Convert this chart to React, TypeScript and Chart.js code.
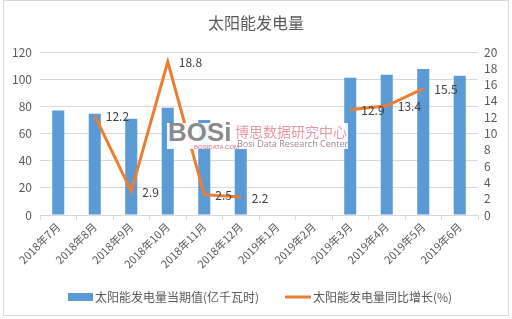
import React, { useEffect, useRef } from "react";
import { Chart, registerables } from "chart.js";

Chart.register(...registerables);

const categories = ["2018年7月", "2018年8月", "2018年9月", "2018年10月", "2018年11月", "2018年12月", "2019年1月", "2019年2月", "2019年3月", "2019年4月", "2019年5月", "2019年6月"];
const outputValues: (number | null)[] = [77, 74.5, 70.8, 79, 70, 48.6, null, null, 101, 103.3, 107.5, 102.6];
const growthValues: (number | null)[] = [null, 12.2, 2.9, 18.8, 2.5, 2.2, null, null, 12.9, 13.4, 15.5, null];
const leftTicks = [0, 20, 40, 60, 80, 100, 120];
const rightTicks = [0, 2, 4, 6, 8, 10, 12, 14, 16, 18, 20];
const titleText = "太阳能发电量";
const barLabel = "太阳能发电量当期值(亿千瓦时)";
const lineLabel = "太阳能发电量同比增长(%)";

const FONT = "'Microsoft YaHei', 'Noto Sans CJK SC', 'Noto Sans', sans-serif";
const BLUE = "#5B9BD5";
const ORANGE = "#ED7D31";
const TEXT = "#595959";

export default function App() {
  const ref = useRef<HTMLCanvasElement | null>(null);
  useEffect(() => {
    document.body.style.margin = "0";
    const canvas = ref.current!;
    const decor = {
      id: "decor",
      beforeDraw(chart: any) {
        const ctx = chart.ctx;
        ctx.save();
        ctx.fillStyle = "#fff";
        ctx.fillRect(0, 0, chart.width, chart.height);
        ctx.strokeStyle = "#D9D9D9";
        ctx.lineWidth = 1;
        ctx.strokeRect(3.5, 0.5, chart.width - 7, chart.height - 4);
        // title
        ctx.fillStyle = TEXT;
        ctx.font = `16px ${FONT}`;
        ctx.textAlign = "center";
        ctx.textBaseline = "middle";
        ctx.fillText(titleText, 256, 23);
        // legend
        ctx.font = `12px ${FONT}`;
        ctx.textAlign = "left";
        ctx.fillStyle = BLUE;
        ctx.fillRect(68, 293, 25, 8);
        ctx.fillStyle = TEXT;
        ctx.fillText(barLabel, 95, 297);
        ctx.strokeStyle = ORANGE;
        ctx.lineWidth = 3;
        ctx.beginPath();
        ctx.moveTo(285, 297);
        ctx.lineTo(311, 297);
        ctx.stroke();
        ctx.fillText(lineLabel, 313, 297);
        ctx.restore();
      },
      afterDatasetsDraw(chart: any) {
        const ctx = chart.ctx;
        ctx.save();
        // watermark
        ctx.fillStyle = "rgba(255,255,255,0.92)";
        ctx.fillRect(167, 123, 181, 26);
        ctx.fillStyle = "#8a8a8a";
        ctx.font = `bold 26px Arial, 'Liberation Sans', sans-serif`;
        ctx.textBaseline = "middle";
        ctx.textAlign = "left";
        ctx.fillText("BOSi", 168, 134);
        ctx.fillStyle = "#d07080";
        ctx.font = `6px Arial, sans-serif`;
        ctx.fillText("BOSIDATA.COM", 194, 147);
        ctx.fillStyle = "#e59aac";
        ctx.font = `14px ${FONT}`;
        ctx.fillText("博思数据研究中心", 235, 132);
        ctx.fillStyle = "#9a8a8f";
        ctx.font = `9px 'Open Sans', sans-serif`;
        ctx.fillText("Bosi Data Research Center", 237, 144);
        // line labels
        const meta = chart.getDatasetMeta(1);
        ctx.fillStyle = "#404040";
        ctx.font = `12px ${FONT}`;
        meta.data.forEach((pt: any, i: number) => {
          const v = growthValues[i];
          if (v == null) return;
          ctx.fillText(v.toFixed(1), pt.x + 11, pt.y + 1);
        });
        ctx.restore();
      },
    };
    const chart = new Chart(canvas, {
      type: "bar",
      data: {
        labels: categories,
        datasets: [
          {
            type: "bar",
            label: barLabel,
            data: outputValues,
            backgroundColor: BLUE,
            yAxisID: "y",
            barPercentage: 0.33,
            categoryPercentage: 1,
            order: 2,
          },
          {
            type: "line",
            label: lineLabel,
            data: growthValues,
            borderColor: ORANGE,
            backgroundColor: ORANGE,
            borderWidth: 3,
            pointRadius: 0,
            yAxisID: "y1",
            spanGaps: false,
            tension: 0,
            order: 1,
          } as any,
        ],
      },
      options: {
        responsive: false,
        animation: false,
        layout: { padding: { top: 52, bottom: 49, left: 5, right: 6 } },
        plugins: {
          legend: { display: false },
          title: { display: false },
          tooltip: { enabled: false },
        },
        scales: {
          x: {
            offset: true,
            grid: { display: true, offset: true, drawOnChartArea: false, drawTicks: true, tickLength: 5, color: "#D9D9D9" },
            border: { color: "#D9D9D9" },
            ticks: { color: TEXT, font: { size: 11, family: FONT }, maxRotation: 45, minRotation: 45, autoSkip: false, padding: 0 },
            afterFit(scale: any) { scale.height = 55; },
          },
          y: {
            position: "left",
            min: 0,
            max: 120,
            afterBuildTicks(scale: any) { scale.ticks = leftTicks.map((v) => ({ value: v })); },
            grid: { color: "#D9D9D9", drawTicks: false },
            border: { display: false },
            ticks: { color: TEXT, font: { size: 12, family: FONT }, padding: 8, autoSkip: false },
            afterFit(scale: any) { scale.width = 35; },
          },
          y1: {
            position: "right",
            min: 0,
            max: 20,
            afterBuildTicks(scale: any) { scale.ticks = rightTicks.map((v) => ({ value: v })); },
            grid: { drawOnChartArea: false, drawTicks: false },
            border: { display: false },
            ticks: { color: TEXT, font: { size: 12, family: FONT }, padding: 6, autoSkip: false },
            afterFit(scale: any) { scale.width = 28; },
          },
        },
      },
      plugins: [decor],
    } as any);
    return () => chart.destroy();
  }, []);
  return (
    <div style={{ width: 512, height: 319 }}>
      <canvas ref={ref} width={512} height={319} />
    </div>
  );
}
